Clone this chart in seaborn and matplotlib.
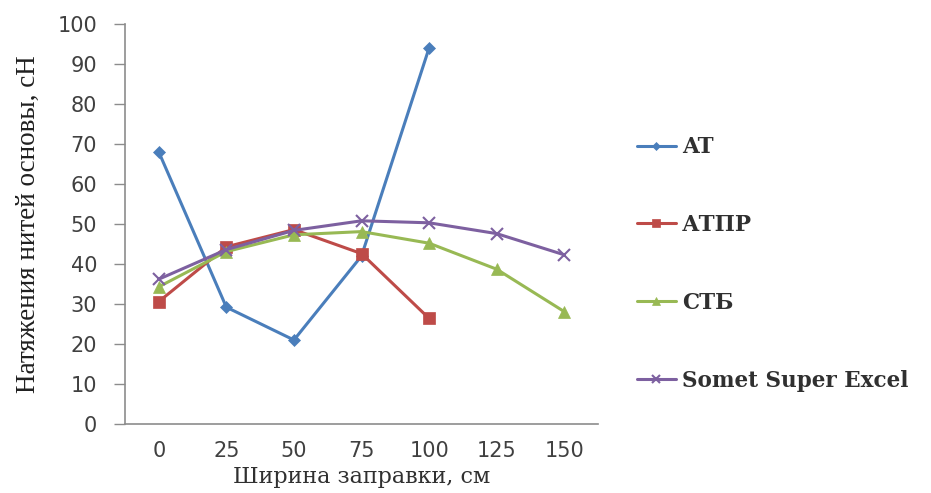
import numpy as np
import pandas as pd
import matplotlib
matplotlib.use("Agg")
import matplotlib.pyplot as plt
import seaborn as sns

categories = ['0', '25', '50', '75', '100', '125', '150']
at_values = [68.0, 29.2, 21.0, 42.0, 94.0, np.nan, np.nan]
atpr_values = [30.6, 44.3, 48.6, 42.6, 26.4, np.nan, np.nan]
stb_values = [34.3, 43.1, 47.3, 48.1, 45.2, 38.7, 28.1]
somet_values = [36.2, 43.6, 48.4, 50.8, 50.3, 47.6, 42.3]
series_names = ['AT', 'АТПР', 'СТБ', 'Somet Super Excel']
y_ticks = [0, 10, 20, 30, 40, 50, 60, 70, 80, 90, 100]
x_title = 'Ширина заправки, см'
y_title = 'Натяжения нитей основы, сН'

colors = ['#4A7EBB', '#BE4B48', '#98B954', '#7D60A0']
markers = ['D', 's', '^', 'x']
msizes = [6, 9, 8, 8]

sns.set_theme(style='white')
plt.rcParams['font.family'] = ['DejaVu Sans']

fig = plt.figure(figsize=(9.31, 4.93), dpi=100)
ax = fig.add_axes([125 / 931, 1 - 424 / 493, (598 - 125) / 931, 400 / 493])

all_values = [at_values, atpr_values, stb_values, somet_values]
for name, vals, c, m, ms in zip(series_names, all_values, colors, markers, msizes):
    df = pd.DataFrame({'x': categories, 'y': vals}).dropna()
    sns.lineplot(data=df, x='x', y='y', ax=ax, color=c, marker=m, markersize=ms,
                 markeredgecolor=c, markeredgewidth=1.5 if m == 'x' else 0.5,
                 linewidth=2.2, label=name, sort=False)

ax.set_xlim(-0.5, len(categories) - 0.5)
ax.set_ylim(0, 100)
ax.set_yticks(y_ticks)
ax.set_xticks(range(len(categories)))
ax.set_xticklabels(categories)

for s in ['top', 'right']:
    ax.spines[s].set_visible(False)
for s in ['left', 'bottom']:
    ax.spines[s].set_color('#8C8C8C')
    ax.spines[s].set_linewidth(1.2)

ax.tick_params(axis='y', which='both', left=True, length=8, width=1.0, color='#8C8C8C',
               direction='out', pad=12, labelsize=15, labelcolor='#404040')
ax.tick_params(axis='x', length=0, pad=12, labelsize=15, labelcolor='#404040')

ax.set_xlabel(x_title, fontsize=16, family=['DejaVu Serif'], color='#303030', labelpad=4)
ax.set_ylabel(y_title, fontsize=19.5, family=['Liberation Serif'], color='#202020', labelpad=12)

handles, labels = ax.get_legend_handles_labels()
leg = fig.legend(handles, labels, loc='center left', bbox_to_anchor=(626 / 931, 1 - 264 / 493),
                 frameon=False, handlelength=1.8, handletextpad=0.3, labelspacing=2.6,
                 borderpad=0, markerscale=0.7,
                 prop={'family': 'DejaVu Serif', 'weight': 'bold', 'size': 15.5})
for t in leg.get_texts():
    t.set_color('#303030')
if ax.get_legend() is not None:
    ax.get_legend().remove()

fig.savefig('out.png', dpi=100, facecolor='white')
